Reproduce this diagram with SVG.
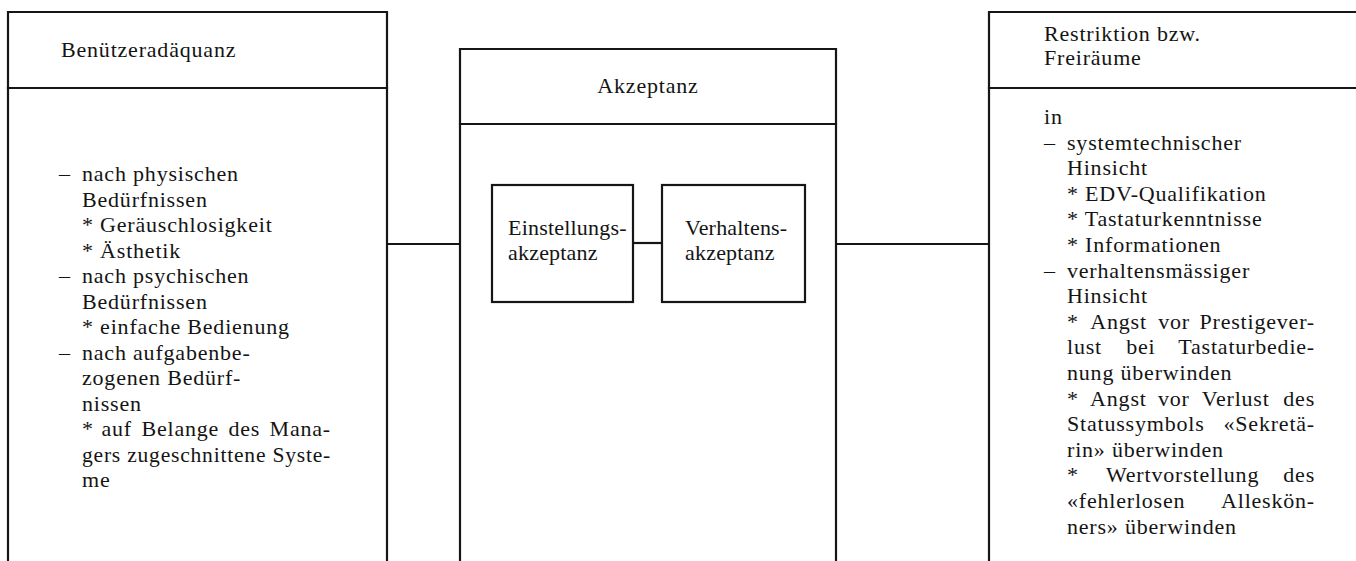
<svg xmlns="http://www.w3.org/2000/svg" width="1356" height="561" viewBox="0 0 1356 561" font-family="Liberation Serif, Tinos, Times New Roman, DejaVu Serif, serif" font-size="22" letter-spacing="0.8">
  <style>
    .frame { fill: none; stroke: #161616; stroke-width: 2.2; stroke-linecap: square; }
    .conn { fill: none; stroke: #161616; stroke-width: 2.2; }
    .end { text-anchor: end; }
    .mid { text-anchor: middle; }
    .inner { letter-spacing: 0.2px; }
  </style>
  <rect width="1356" height="561" fill="#ffffff"/>

  <!-- connectors between the three columns and the two inner boxes -->
  <g id="connectors">
    <line class="conn" x1="387" y1="244" x2="460" y2="244"/>
    <line class="conn" x1="633" y1="243" x2="662" y2="243"/>
    <line class="conn" x1="836" y1="244" x2="989" y2="244"/>
  </g>

  <!-- left column: Benützeradäquanz -->
  <g id="node-benuetzeradaequanz" fill="#141414">
    <path class="frame" d="M8,561 V12 H387 V561"/>
    <line class="frame" x1="8" y1="88" x2="387" y2="88"/>
    <text x="61" y="57">Benützeradäquanz</text>
    <text x="59" y="181">–</text>
    <text x="82" y="181">nach physischen</text>
    <text x="82" y="206.5">Bedürfnissen</text>
    <text x="82" y="232">* Geräuschlosigkeit</text>
    <text x="82" y="257.5">* Ästhetik</text>
    <text x="59" y="283">–</text>
    <text x="82" y="283">nach psychischen</text>
    <text x="82" y="308.5">Bedürfnissen</text>
    <text x="82" y="334">* einfache Bedienung</text>
    <text x="59" y="359.5">–</text>
    <text x="82" y="359.5">nach aufgabenbe-</text>
    <text x="82" y="385">zogenen Bedürf-</text>
    <text x="82" y="410.5">nissen</text>
    <!-- justified lines: words placed by hand -->
    <text y="436"><tspan x="82">*</tspan><tspan x="101.4">auf</tspan><tspan x="141.5">Belange</tspan><tspan x="228.4">des</tspan></text>
    <text class="end" x="331" y="436">Mana-</text>
    <text x="82" y="461.5" textLength="249" lengthAdjust="spacingAndGlyphs">gers zugeschnittene Syste-</text>
    <text x="82" y="487">me</text>
  </g>

  <!-- middle column: Akzeptanz -->
  <g id="node-akzeptanz" fill="#141414">
    <path class="frame" d="M460,561 V49 H836 V561"/>
    <line class="frame" x1="460" y1="124" x2="836" y2="124"/>
    <text class="mid" x="648" y="93">Akzeptanz</text>
  </g>

  <g id="node-einstellungsakzeptanz" fill="#141414">
    <rect class="frame" x="492" y="185" width="141" height="117"/>
    <text class="inner" x="508" y="235">Einstellungs-</text>
    <text class="inner" x="508" y="260">akzeptanz</text>
  </g>

  <g id="node-verhaltensakzeptanz" fill="#141414">
    <rect class="frame" x="662" y="185" width="143" height="117"/>
    <text class="inner" x="685" y="235">Verhaltens-</text>
    <text class="inner" x="685" y="260">akzeptanz</text>
  </g>

  <!-- right column: Restriktion bzw. Freiräume -->
  <g id="node-restriktion" fill="#141414">
    <path class="frame" d="M1360,12 H989 V561"/>
    <line class="frame" x1="989" y1="88" x2="1360" y2="88"/>
    <text x="1044" y="41">Restriktion bzw.</text>
    <text x="1044" y="65">Freiräume</text>
    <text x="1044" y="124">in</text>
    <text x="1044" y="149.6">–</text>
    <text x="1067" y="149.6">systemtechnischer</text>
    <text x="1067" y="175.2">Hinsicht</text>
    <text x="1067" y="200.8">* EDV-Qualifikation</text>
    <text x="1067" y="226.4">* Tastaturkenntnisse</text>
    <text x="1067" y="252">* Informationen</text>
    <text x="1044" y="277.6">–</text>
    <text x="1067" y="277.6">verhaltensmässiger</text>
    <text x="1067" y="303.2">Hinsicht</text>
    <!-- justified lines: words placed by hand -->
    <text y="328.8"><tspan x="1067">*</tspan><tspan x="1090.3">Angst</tspan><tspan x="1158.2">vor</tspan></text>
    <text class="end" x="1315" y="328.8">Prestigever-</text>
    <text y="354.4"><tspan x="1067">lust</tspan><tspan x="1126.2">bei</tspan></text>
    <text class="end" x="1315" y="354.4">Tastaturbedie-</text>
    <text x="1067" y="380">nung überwinden</text>
    <text y="405.6"><tspan x="1067">*</tspan><tspan x="1090.1">Angst</tspan><tspan x="1157.9">vor</tspan><tspan x="1201.7">Verlust</tspan></text>
    <text class="end" x="1315" y="405.6">des</text>
    <text x="1067" y="431.2">Statussymbols</text>
    <text class="end" x="1315" y="431.2">«Sekretä-</text>
    <text x="1067" y="456.8">rin» überwinden</text>
    <text y="482.4"><tspan x="1067">*</tspan><tspan x="1106">Wertvorstellung</tspan></text>
    <text class="end" x="1315" y="482.4">des</text>
    <text x="1067" y="508">«fehlerlosen</text>
    <text class="end" x="1315" y="508">Alleskön-</text>
    <text x="1067" y="533.6">ners» überwinden</text>
  </g>
</svg>
